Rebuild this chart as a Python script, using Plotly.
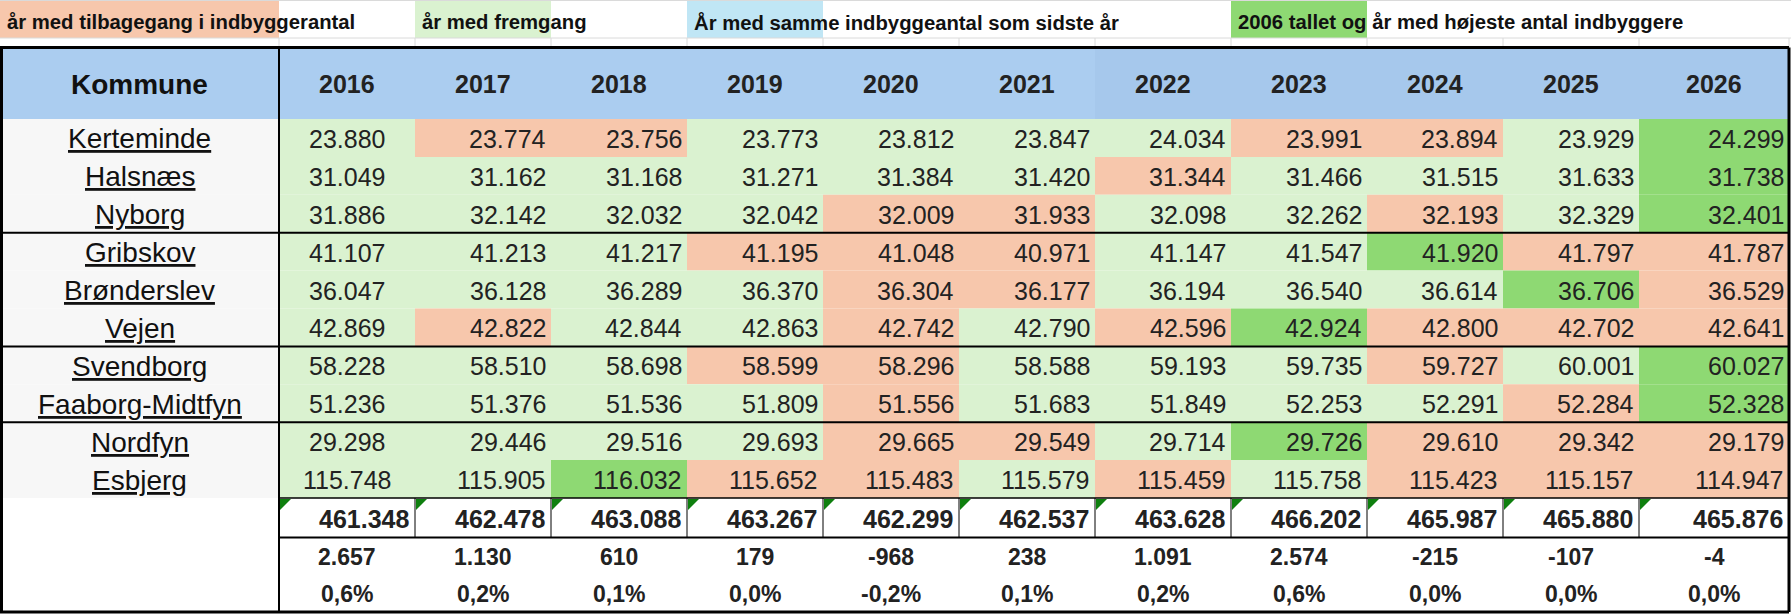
import plotly.graph_objects as go

# ---------------- data ----------------
kommuner = ["Kerteminde", "Halsnæs", "Nyborg", "Gribskov", "Brønderslev", "Vejen",
            "Svendborg", "Faaborg-Midtfyn", "Nordfyn", "Esbjerg"]
years = [2016, 2017, 2018, 2019, 2020, 2021, 2022, 2023, 2024, 2025, 2026]

kerteminde = [23880, 23774, 23756, 23773, 23812, 23847, 24034, 23991, 23894, 23929, 24299]
halsnaes = [31049, 31162, 31168, 31271, 31384, 31420, 31344, 31466, 31515, 31633, 31738]
nyborg = [31886, 32142, 32032, 32042, 32009, 31933, 32098, 32262, 32193, 32329, 32401]
gribskov = [41107, 41213, 41217, 41195, 41048, 40971, 41147, 41547, 41920, 41797, 41787]
broenderslev = [36047, 36128, 36289, 36370, 36304, 36177, 36194, 36540, 36614, 36706, 36529]
vejen = [42869, 42822, 42844, 42863, 42742, 42790, 42596, 42924, 42800, 42702, 42641]
svendborg = [58228, 58510, 58698, 58599, 58296, 58588, 59193, 59735, 59727, 60001, 60027]
faaborg = [51236, 51376, 51536, 51809, 51556, 51683, 51849, 52253, 52291, 52284, 52328]
nordfyn = [29298, 29446, 29516, 29693, 29665, 29549, 29714, 29726, 29610, 29342, 29179]
esbjerg = [115748, 115905, 116032, 115652, 115483, 115579, 115459, 115758, 115423, 115157, 114947]

# cell status: N = tilbagegang, F = fremgang, H = 2006 tallet / højeste antal
status_kerteminde = ["F", "N", "N", "F", "F", "F", "F", "N", "N", "F", "H"]
status_halsnaes = ["F", "F", "F", "F", "F", "F", "N", "F", "F", "F", "H"]
status_nyborg = ["F", "F", "F", "F", "N", "N", "F", "F", "N", "F", "H"]
status_gribskov = ["F", "F", "F", "N", "N", "N", "F", "F", "H", "N", "N"]
status_broenderslev = ["F", "F", "F", "F", "N", "N", "F", "F", "F", "H", "N"]
status_vejen = ["F", "N", "F", "F", "N", "F", "N", "H", "N", "N", "N"]
status_svendborg = ["F", "F", "F", "N", "N", "F", "F", "F", "N", "F", "H"]
status_faaborg = ["F", "F", "F", "F", "N", "F", "F", "F", "F", "N", "H"]
status_nordfyn = ["F", "F", "F", "F", "N", "N", "F", "H", "N", "N", "N"]
status_esbjerg = ["F", "F", "H", "N", "N", "F", "N", "F", "N", "N", "N"]

totals = [461348, 462478, 463088, 463267, 462299, 462537, 463628, 466202, 465987, 465880, 465876]
diffs = [2657, 1130, 610, 179, -968, 238, 1091, 2574, -215, -107, -4]
pcts = [0.6, 0.2, 0.1, 0.0, -0.2, 0.1, 0.2, 0.6, 0.0, 0.0, 0.0]

legend_texts = ["år med tilbagegang i indbyggerantal", "år med fremgang",
                "År med samme indbyggeantal som sidste år",
                "2006 tallet og år med højeste antal indbyggere"]
legend_cols = [-1, 1, 3, 7]   # -1 = Kommune column, else year-column index
legend_keys = ["N", "F", "S", "H"]
group_breaks = [3, 6, 8]

values = [kerteminde, halsnaes, nyborg, gribskov, broenderslev, vejen,
          svendborg, faaborg, nordfyn, esbjerg]
statuses = [status_kerteminde, status_halsnaes, status_nyborg, status_gribskov,
            status_broenderslev, status_vejen, status_svendborg, status_faaborg,
            status_nordfyn, status_esbjerg]

# ---------------- style ----------------
W, H = 1791, 615
FONT = "Liberation Sans, Arial, sans-serif"
FILL = {"N": "#F7C7AC", "F": "#DAF2D0", "H": "#8ED973", "S": "#C0E6F5"}
HEAD_A = "#ABCDF0"
HEAD_B = "#A6C8EC"
KOM_BG = "#F7F7F7"
TXT = "#222222"
GRID = "#DADADA"

KOM_W = 279
COL_W = 136
LAST_W = 150
n_cols = len(years)
col_x0 = [KOM_W + COL_W * i for i in range(n_cols)]
col_x1 = [x + COL_W for x in col_x0]
col_x1[-1] = col_x0[-1] + LAST_W
RIGHT = col_x1[-1]

LEG_Y0, LEG_Y1 = 1, 38
TOP = 47.5
HEAD_Y1 = 119
ROW_H = 37.9
n_rows = len(kommuner)
row_y0 = [HEAD_Y1 + ROW_H * r for r in range(n_rows)]
row_y1 = [y + ROW_H for y in row_y0]
TOT_Y0 = row_y1[-1]
TOT_Y1 = 537.5
DIFF_Y1 = 576
BOTTOM = 612


def fmt(v):
    return f"{v:,}".replace(",", ".")


def fmtp(p):
    return f"{p:.1f}".replace(".", ",") + "%"


shapes = []
annotations = []


def rect(x0, y0, x1, y1, fill, layer="below"):
    shapes.append(dict(type="rect", xref="x", yref="y", x0=x0, y0=y0, x1=x1, y1=y1,
                       fillcolor=fill, line=dict(width=0), layer=layer))


def line(x0, y0, x1, y1, color="black", width=2):
    shapes.append(dict(type="line", xref="x", yref="y", x0=x0, y0=y0, x1=x1, y1=y1,
                       line=dict(color=color, width=width), layer="above"))


def text(x, y, s, size, anchor="center", bold=False, color=TXT):
    annotations.append(dict(xref="x", yref="y", x=x, y=y, text=s, showarrow=False,
                            xanchor=anchor, yanchor="middle",
                            font=dict(family=FONT, size=size, color=color,
                                      weight="bold" if bold else "normal")))


# ---- legend row ----
line(0, 0.5, W, 0.5, GRID, 1)
line(0, LEG_Y1, W, LEG_Y1, GRID, 1)
for xg in [KOM_W] + col_x1:
    line(xg, LEG_Y1, xg, TOP, GRID, 1)
for lt, lc, lk in zip(legend_texts, legend_cols, legend_keys):
    x0 = 0 if lc < 0 else col_x0[lc]
    x1 = KOM_W if lc < 0 else col_x1[lc]
    rect(x0, LEG_Y0, x1, LEG_Y1, FILL[lk])
for lt, lc in zip(legend_texts, legend_cols):
    x0 = 0 if lc < 0 else col_x0[lc]
    text(x0 + 5, 22, lt, 20.3, anchor="left", bold=True, color="#111111")

# ---- header ----
rect(0, TOP, col_x0[6], HEAD_Y1, HEAD_A)
rect(col_x0[6], TOP, RIGHT, HEAD_Y1, HEAD_B)
text(KOM_W / 2, 84, "Kommune", 28, bold=True, color="#111111")
for i, yr in enumerate(years):
    text((col_x0[i] + col_x1[i]) / 2, 84, str(yr), 25, bold=True)

# ---- data rows ----
for r, name in enumerate(kommuner):
    rect(0, row_y0[r], KOM_W, row_y1[r], KOM_BG)
    yc = (row_y0[r] + row_y1[r]) / 2 + 1
    text(KOM_W / 2, yc, f"<u>{name}</u>", 28, color="#111111")
    for i in range(n_cols):
        rect(col_x0[i], row_y0[r], col_x1[i], row_y1[r], FILL[statuses[r][i]])
        if i == 0:
            text((col_x0[i] + col_x1[i]) / 2, yc, fmt(values[r][i]), 25)
        else:
            text(col_x1[i] - 3, yc, fmt(values[r][i]), 25, anchor="right")

# ---- totals / diff / pct ----
for i in range(n_cols):
    text(col_x1[i] - 4, (TOT_Y0 + TOT_Y1) / 2 + 1, fmt(totals[i]), 25, anchor="right", bold=True)
    cx = (col_x0[i] + col_x1[i]) / 2
    text(cx, 557, fmt(diffs[i]), 23, bold=True)
    text(cx, 594, fmtp(pcts[i]), 23, bold=True)
    tri = 11
    shapes.append(dict(type="path", xref="x", yref="y",
                       path=f"M {col_x0[i]+1},{TOT_Y0+1} L {col_x0[i]+1+tri},{TOT_Y0+1} L {col_x0[i]+1},{TOT_Y0+1+tri} Z",
                       fillcolor="#0E7F0E", line=dict(width=0), layer="above"))
    if i > 0:
        line(col_x0[i], TOT_Y0, col_x0[i], TOT_Y1, "black", 1)

# ---- borders ----
line(KOM_W, TOT_Y0, RIGHT, TOT_Y0, "black", 1.5)
line(KOM_W, TOT_Y1, RIGHT, TOT_Y1, "black", 2)
for g in group_breaks:
    yb = row_y0[g]
    line(0, yb, RIGHT, yb, "black", 2)
line(KOM_W, TOP, KOM_W, BOTTOM, "black", 2)
line(0, TOP, RIGHT, TOP, "black", 3)
line(0, BOTTOM, RIGHT, BOTTOM, "black", 3)
line(1.5, TOP, 1.5, BOTTOM, "black", 3)
line(RIGHT, TOP, RIGHT, BOTTOM, "black", 3)

fig = go.Figure()
fig.add_trace(go.Scatter(x=[0, W], y=[0, H], mode="markers", marker=dict(opacity=0),
                         hoverinfo="skip", showlegend=False))
fig.update_layout(
    width=W, height=H, margin=dict(l=0, r=0, t=0, b=0),
    paper_bgcolor="white", plot_bgcolor="white",
    xaxis=dict(range=[0, W], visible=False, fixedrange=True),
    yaxis=dict(range=[H, 0], visible=False, fixedrange=True),
    shapes=shapes, annotations=annotations, showlegend=False,
)
fig.write_html("out.html", config={"displayModeBar": False},
               post_script="document.body.style.margin='0';document.body.style.overflow='hidden';")
